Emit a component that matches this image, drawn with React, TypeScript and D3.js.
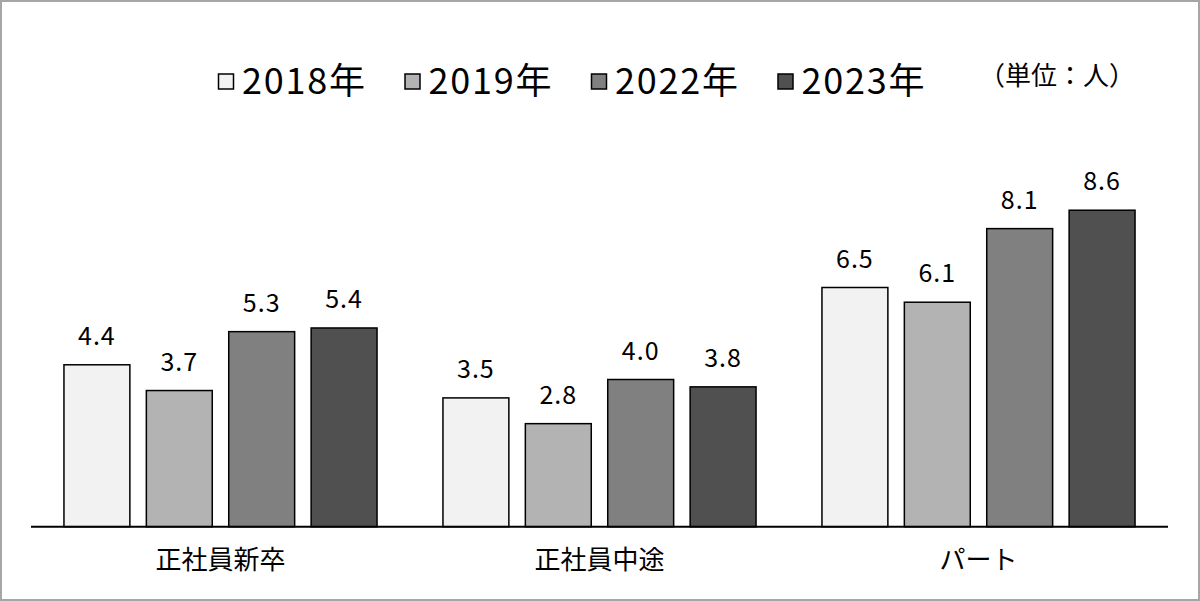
import * as d3 from "d3";
import { useEffect, useRef } from "react";

const categories = ["正社員新卒", "正社員中途", "パート"];
const years = ["2018年", "2019年", "2022年", "2023年"];
const values2018 = [4.4, 3.5, 6.5];
const values2019 = [3.7, 2.8, 6.1];
const values2022 = [5.3, 4.0, 8.1];
const values2023 = [5.4, 3.8, 8.6];
const fills = ["#f2f2f2", "#b3b3b3", "#808080", "#505050"];
const unitLabel = "（単位：人）";

const FONT = "'Noto Sans CJK JP', 'Noto Sans', sans-serif";

export default function App() {
  const svgRef = useRef<SVGSVGElement>(null);

  useEffect(() => {
    if (!svgRef.current) return;
    const svg = d3.select(svgRef.current);
    svg.selectAll("*").remove();

    const width = 1200;
    const height = 601;
    const series = [values2018, values2019, values2022, values2023];

    // 外枠
    svg
      .append("rect")
      .attr("x", 1)
      .attr("y", 1)
      .attr("width", width - 2)
      .attr("height", height - 2)
      .attr("fill", "#fff")
      .attr("stroke", "#a6a6a6")
      .attr("stroke-width", 2);

    const x0 = d3.scaleBand().domain(categories).range([31, 1168]).padding(0);
    const x1 = d3
      .scaleBand<number>()
      .domain(d3.range(years.length))
      .range([0, x0.bandwidth()])
      .paddingInner(0.2)
      .paddingOuter(0.4);
    const y = d3.scaleLinear().domain([0, 10]).range([526.7, 158.7]);

    const groups = svg
      .selectAll(".grp")
      .data(categories)
      .enter()
      .append("g")
      .attr("class", "grp")
      .attr("transform", (d) => `translate(${x0(d)},0)`);

    series.forEach((vals, si) => {
      groups
        .append("rect")
        .attr("x", x1(si)!)
        .attr("y", (d, ci) => y(vals[ci]))
        .attr("width", x1.bandwidth())
        .attr("height", (d, ci) => y(0) - y(vals[ci]))
        .attr("fill", fills[si])
        .attr("stroke", "#000")
        .attr("stroke-width", 1.5);

      groups
        .append("text")
        .attr("x", x1(si)! + x1.bandwidth() / 2)
        .attr("y", (d, ci) => y(vals[ci]) - 20)
        .attr("text-anchor", "middle")
        .attr("font-family", FONT)
        .attr("font-size", 25)
        .attr("letter-spacing", 1)
        .attr("fill", "#000")
        .text((d, ci) => vals[ci].toFixed(1));
    });

    // 軸線
    svg
      .append("line")
      .attr("x1", 31)
      .attr("x2", 1168)
      .attr("y1", y(0))
      .attr("y2", y(0))
      .attr("stroke", "#000")
      .attr("stroke-width", 2);

    // カテゴリラベル
    svg
      .selectAll(".cat")
      .data(categories)
      .enter()
      .append("text")
      .attr("class", "cat")
      .attr("x", (d) => x0(d)! + x0.bandwidth() / 2)
      .attr("y", 569)
      .attr("text-anchor", "middle")
      .attr("font-family", FONT)
      .attr("font-size", 26)
      .attr("fill", "#000")
      .text((d) => d);

    // 凡例
    const legend = svg
      .selectAll(".leg")
      .data(years)
      .enter()
      .append("g")
      .attr("class", "leg")
      .attr("transform", (d, i) => `translate(${218 + i * 186.5},0)`);
    legend
      .append("rect")
      .attr("x", 0.5)
      .attr("y", 74)
      .attr("width", 15)
      .attr("height", 15)
      .attr("fill", (d, i) => fills[i])
      .attr("stroke", "#000")
      .attr("stroke-width", 1.5);
    legend
      .append("text")
      .attr("x", 24)
      .attr("y", 94)
      .attr("font-family", FONT)
      .attr("font-size", 36)
      .attr("letter-spacing", 1.8)
      .attr("fill", "#000")
      .text((d) => d);

    svg
      .append("text")
      .attr("x", 1057)
      .attr("y", 85)
      .attr("text-anchor", "middle")
      .attr("font-family", FONT)
      .attr("font-size", 26)
      .attr("fill", "#000")
      .text(unitLabel);
  }, []);

  return (
    <svg
      ref={svgRef}
      width={1200}
      height={601}
      style={{ position: "fixed", left: 0, top: 0, display: "block" }}
    ></svg>
  );
}
